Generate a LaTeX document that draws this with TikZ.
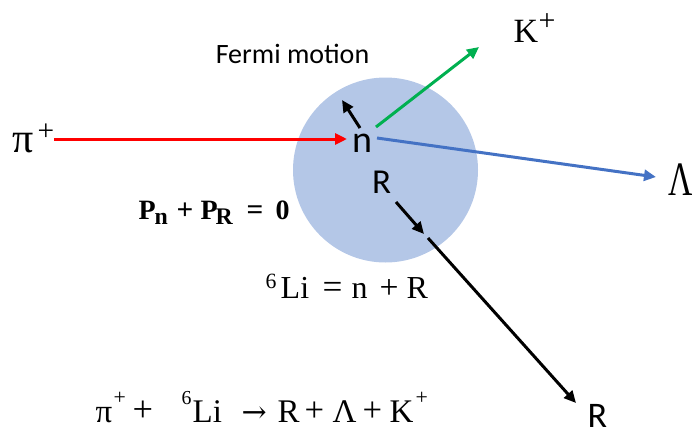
\documentclass[tikz,border=0pt]{standalone}
\usepackage{graphicx}
\usepackage{fontspec}
\setmainfont{Liberation Serif}
\newfontfamily\calib{Carlito}
\newfontfamily\dvs{DejaVu Serif}
\usetikzlibrary{arrows.meta}
\definecolor{nucblue}{HTML}{B4C7E7}
\definecolor{kgreen}{HTML}{00B050}
\definecolor{lblue}{HTML}{4472C4}
% place #2 at horizontal offset #1 from the node's start
\newcommand\putat[2]{\makebox[0pt][l]{\hspace{#1}#2}}
% raised / lowered scaled glyph
\newcommand\shifted[3]{\raisebox{#1}{\scalebox{#2}{#3}}}
\begin{document}
\begin{tikzpicture}[x=1pt,y=-1pt,
  arr/.style={line width=3pt,-{Triangle[length=12pt,width=11pt]}},
  lbl/.style={inner sep=0pt,anchor=base west},
  sanslbl/.style={inner sep=0pt,anchor=base,font=\calib}]
\useasboundingbox (0,0) rectangle (695,431);
\node[circle,fill=nucblue,minimum size=185pt,inner sep=0pt] (nuc) at (385.5,170) {};
% labels
\node[sanslbl,font=\calib\fontsize{28}{30}\selectfont] (fermi) at (292.5,63) {Fermi motion};
\node[sanslbl,font=\calib\fontsize{38}{40}\selectfont] (n) at (362,152) {n};
\node[sanslbl,font=\calib\fontsize{35}{38}\selectfont] (Rin) at (381.5,193) {R};
\node[sanslbl,font=\calib\fontsize{36}{38}\selectfont] (Rout) at (597.5,427) {R};
\node[lbl,font=\fontsize{42}{44}\selectfont] (pi) at (12,152)
  {\putat{0pt}{π}\putat{25pt}{\shifted{11.5pt}{0.7}{+}}};
\node[lbl,font=\fontsize{34}{36}\selectfont] (K) at (513,42)
  {\putat{0pt}{K}\putat{25pt}{\shifted{12pt}{0.88}{+}}};
\node[lbl,font=\fontsize{48}{50}\selectfont] (Lam) at (668,195) {\scalebox{0.7}[1]{Λ}};
\node[lbl,font=\bfseries\fontsize{28}{30}\selectfont] (mom) at (138,219)
  {\putat{0pt}{P}\putat{16pt}{\shifted{-5pt}{0.85}{n}}\putat{38pt}{\shifted{0pt}{1.05}{+}}%
   \putat{62pt}{P}\putat{77pt}{\shifted{-5pt}{0.85}{R}}\putat{108pt}{\shifted{0pt}{1.05}{=}}\putat{137pt}{0}};
\node[lbl,font=\fontsize{32}{34}\selectfont] (li) at (265,298)
  {\putat{0pt}{\shifted{10pt}{0.68}{6}}\putat{15pt}{Li}\putat{57pt}{\shifted{0pt}{1.1}{=}}%
   \putat{86pt}{n}\putat{114pt}{\shifted{0pt}{1.05}{+}}\putat{141pt}{R}};
\node[lbl,font=\fontsize{33}{35}\selectfont] (reac) at (95,422)
  {\putat{0pt}{π}\putat{18pt}{\shifted{18pt}{0.66}{+}}\putat{37pt}{\shifted{1pt}{1.1}{+}}%
   \putat{86pt}{\shifted{18pt}{0.6}{6}}\putat{97pt}{Li}%
   \putat{146pt}{{\dvs\fontsize{30}{32}\selectfont →}}%
   \putat{182pt}{R}\putat{209pt}{\shifted{1pt}{1.05}{+}}\putat{237pt}{Λ}%
   \putat{267pt}{\shifted{1pt}{1.05}{+}}\putat{294pt}{K}\putat{320pt}{\shifted{18pt}{0.66}{+}}};
% coordinates
\coordinate (redS) at (54,139);
\coordinate (redE) at (347,139);
\coordinate (fS) at (360,128);
\coordinate (fE) at (342,100);
\coordinate (gS) at (376,127);
\coordinate (gE) at (479,47);
\coordinate (bS) at (377,138);
\coordinate (bE) at (656,177);
\coordinate (rS) at (396,202);
\coordinate (rE) at (424,234);
\coordinate (lS) at (428,238);
\coordinate (lE) at (576,403);
% arrows
\draw[arr,red] (redS) -- (redE);
\draw[arr,black] (fS) -- (fE);
\draw[arr,kgreen] (gS) -- (gE);
\draw[arr,lblue] (bS) -- (bE);
\draw[arr,black] (rS) -- (rE);
\draw[arr,black] (lS) -- (lE);
\end{tikzpicture}
\end{document}
